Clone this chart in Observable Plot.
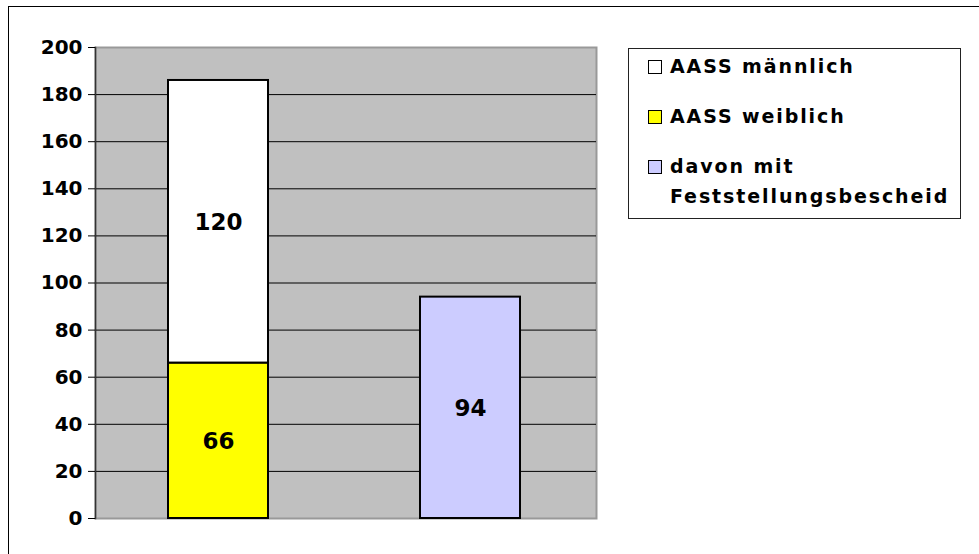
<!DOCTYPE html>
<html>
<head>
<meta charset="utf-8">
<script src="https://cdn.jsdelivr.net/npm/d3@7"></script>
<script src="https://cdn.jsdelivr.net/npm/@observablehq/plot@0.6"></script>
<style>
  html, body { margin: 0; padding: 0; background: #fff; }
  #wrap { position: relative; width: 979px; height: 554px; overflow: hidden; font-family: "DejaVu Sans", sans-serif; }
  #outer { position: absolute; left: 8px; top: 6px; width: 1200px; height: 800px; border-top: 1.5px solid #000; border-left: 1.5px solid #000; }
  #chart { position: absolute; left: 0; top: 0; }
  #legend { position: absolute; left: 628px; top: 48px; width: 331px; height: 169px; border: 1px solid #222; background: #fff; }
  .item { position: absolute; left: 19px; font-size: 19px; font-weight: bold; letter-spacing: 1.9px; color: #000; line-height: 30px; white-space: nowrap; }
  .sw { position: absolute; left: 0; width: 12px; height: 12px; border: 1px solid #000; }
  .lbl { position: absolute; left: 22px; top: -1px; }
</style>
</head>
<body>
<div id="wrap">
  <div id="outer"></div>
  <div id="chart"></div>
  <div id="legend"></div>
</div>
<script>
const categories = ["AASS gesamt", "Feststellungsbescheid"];
const seriesNames = ["AASS weiblich", "AASS männlich", "davon mit Feststellungsbescheid"];
const seriesColors = ["#FFFF00", "#FFFFFF", "#CCCCFF"];
const seriesCategory = ["AASS gesamt", "AASS gesamt", "Feststellungsbescheid"];
const seriesValues = [66, 120, 94];
const yTicks = [0, 20, 40, 60, 80, 100, 120, 140, 160, 180, 200];
const gridTicks = [20, 40, 60, 80, 100, 120, 140, 160, 180];
const legendOrder = ["AASS männlich", "AASS weiblich", "davon mit Feststellungsbescheid"];
const legendLines = [["AASS männlich"], ["AASS weiblich"], ["davon mit", "Feststellungsbescheid"]];

const rows = seriesNames.map((s, i) => ({series: s, cat: seriesCategory[i], value: seriesValues[i]}));

const chart = Plot.plot({
  width: 979,
  height: 554,
  marginLeft: 95,
  marginRight: 383,
  marginTop: 47,
  marginBottom: 36,
  style: {background: "transparent", overflow: "visible"},
  x: {type: "band", domain: categories, paddingInner: 0.603, paddingOuter: 0.295, align: 0.49, axis: null},
  y: {domain: [0, 200], ticks: yTicks},
  color: {domain: seriesNames, range: seriesColors},
  marks: [
    Plot.frame({fill: "#C0C0C0", stroke: "#999", strokeWidth: 2}),
    Plot.ruleY(gridTicks, {stroke: "#000", strokeWidth: 1}),
    Plot.frame({anchor: "left", stroke: "#333", strokeWidth: 1.5}),
    Plot.barY(rows, Plot.stackY({x: "cat", y: "value", fill: "series", stroke: "#000", strokeWidth: 2})),
    Plot.text(rows, Plot.stackY({x: "cat", y: "value", text: "value", fontSize: 23, fontWeight: "bold", fill: "#000", dy: 1, style: "letter-spacing:2.2px"})),
    Plot.axisY({ticks: yTicks, tickSize: 7, tickPadding: 6, fontSize: 20, fontWeight: "bold", label: null, stroke: "#000", color: "#000", style: "letter-spacing:2.4px"})
  ]
});
chart.style.fontFamily = '"DejaVu Sans", sans-serif';
document.getElementById("chart").appendChild(chart);

const leg = document.getElementById("legend");
const rowTops = [3, 53, 103];
legendOrder.forEach((name, i) => {
  const color = seriesColors[seriesNames.indexOf(name)];
  const item = document.createElement("div");
  item.className = "item";
  item.style.top = rowTops[i] + "px";
  const sw = document.createElement("div");
  sw.className = "sw";
  sw.style.top = "8px";
  sw.style.background = color;
  item.appendChild(sw);
  const lbl = document.createElement("div");
  lbl.className = "lbl";
  lbl.innerHTML = legendLines[i].join("<br>");
  item.appendChild(lbl);
  leg.appendChild(item);
});
</script>
</body>
</html>
